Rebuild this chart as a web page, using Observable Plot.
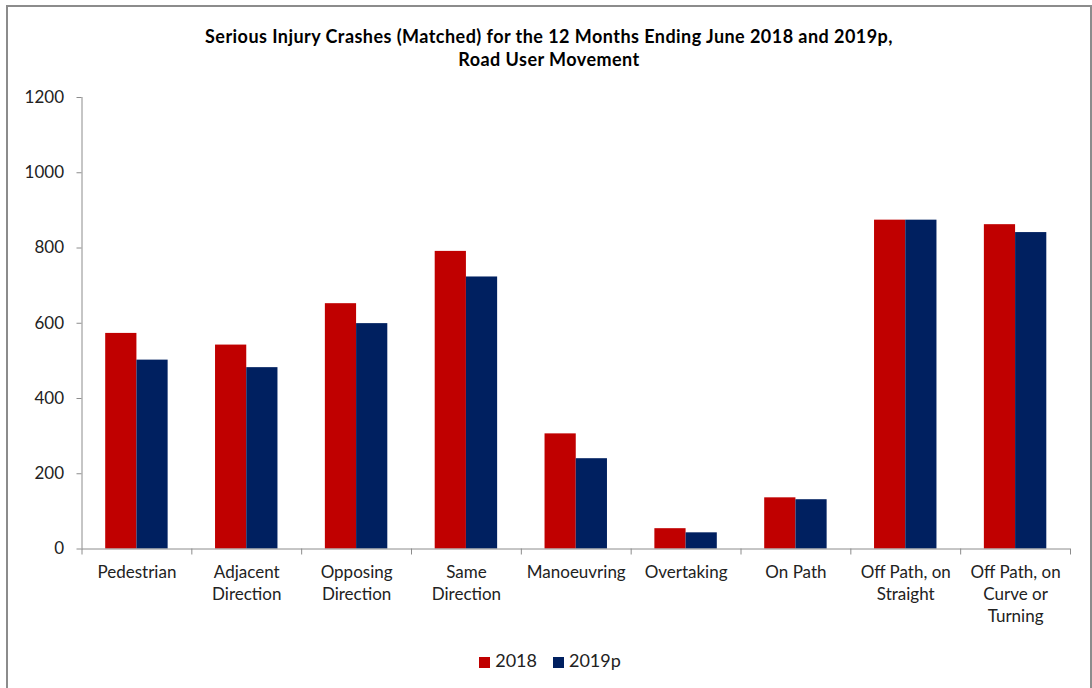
<!DOCTYPE html>
<html>
<head>
<meta charset="utf-8">
<script src="https://cdn.jsdelivr.net/npm/d3@7"></script>
<script src="https://cdn.jsdelivr.net/npm/@observablehq/plot@0.6"></script>
<style>
  body { margin: 0; background: #fff; font-family: Lato, "Open Sans", sans-serif; }
  #border { position: absolute; left: 6px; top: 5px; width: 1086px; height: 700px; border: 2px solid #8c8c8c; box-sizing: border-box; }
  #title { position: absolute; left: 0; width: 1098px; top: 25px; text-align: center; font-weight: bold; font-size: 18px; letter-spacing: 0.45px; line-height: 23px; color: #000; }
  #chart { position: absolute; left: 0; top: 80px; }
  #legend { position: absolute; top: 650px; left: 0; width: 1100px; text-align: center; font-size: 18px; line-height: 20px; color: #222; }
  #legend .item { display: inline-block; margin: 0 8px; }
  #legend .sw { display: inline-block; width: 11px; height: 11px; margin-right: 5px; vertical-align: -1px; }
</style>
</head>
<body>
<div id="border"></div>
<div id="title">Serious Injury Crashes (Matched) for the 12 Months Ending June 2018 and 2019p,<br>Road User Movement</div>
<div id="chart"></div>
<div id="legend"></div>
<script>
const categories = ["Pedestrian", "Adjacent Direction", "Opposing Direction", "Same Direction", "Manoeuvring", "Overtaking", "On Path", "Off Path, on Straight", "Off Path, on Curve or Turning"];
const tickLabels = ["Pedestrian", "Adjacent\nDirection", "Opposing\nDirection", "Same\nDirection", "Manoeuvring", "Overtaking", "On Path", "Off Path, on\nStraight", "Off Path, on\nCurve or\nTurning"];
const values2018 = [573, 542, 652, 791, 306, 54, 136, 874, 862];
const values2019p = [502, 482, 599, 723, 240, 43, 131, 874, 841];
const yTicks = [0, 200, 400, 600, 800, 1000, 1200];
const series = ["2018", "2019p"];
const colors = ["#C00000", "#002060"];

const rows2018 = categories.map((c, i) => ({category: c, year: series[0], value: values2018[i]}));
const rows2019 = categories.map((c, i) => ({category: c, year: series[1], value: values2019p[i]}));
const labelOf = new Map(categories.map((c, i) => [c, tickLabels[i]]));

const W = 1092, H = 600, mL = 81.5, mR = 22, mT = 17, mB = 131.5;
const bw = (W - mL - mR) / categories.length;
const outer = 23.7, inner = bw / 2;
const axisGray = "#8c8c8c";

const chart = Plot.plot({
  width: W, height: H,
  marginLeft: mL, marginRight: mR, marginTop: mT, marginBottom: mB,
  style: {fontFamily: "Lato, 'Open Sans', sans-serif", fontSize: "17px", color: "#222", background: "transparent"},
  x: {type: "band", domain: categories, padding: 0, round: false, axis: null},
  y: {domain: [0, 1200], axis: null},
  marks: [
    Plot.barY(rows2018, {x: "category", y: "value", fill: colors[0], insetLeft: outer, insetRight: inner}),
    Plot.barY(rows2019, {x: "category", y: "value", fill: colors[1], insetLeft: inner, insetRight: outer}),
    Plot.ruleY([0], {stroke: axisGray}),
    Plot.ruleX([categories[0]], {x: d => d, y1: 0, y2: 1200, dx: -bw / 2, stroke: axisGray}),
    Plot.axisY(yTicks, {tickSize: 5, tickFormat: () => "", stroke: axisGray, label: null}),
    Plot.axisY(yTicks, {tickSize: 0, tickPadding: 18, tickFormat: d => String(d), fill: "#222", label: null}),
    Plot.axisX(categories, {tickSize: 6, tickFormat: () => "", dx: -bw / 2, stroke: axisGray, label: null}),
    Plot.axisX([categories[categories.length - 1]], {tickSize: 6, tickFormat: () => "", dx: bw / 2, stroke: axisGray, label: null}),
    Plot.axisX(categories, {tickSize: 0, tickPadding: 13, tickFormat: d => labelOf.get(d), lineHeight: 1.3, fill: "#222", label: null})
  ]
});
document.getElementById("chart").appendChild(chart);

const legend = document.getElementById("legend");
series.forEach((s, i) => {
  const item = document.createElement("span");
  item.className = "item";
  const sw = document.createElement("span");
  sw.className = "sw";
  sw.style.background = colors[i];
  item.appendChild(sw);
  item.appendChild(document.createTextNode(s));
  legend.appendChild(item);
});
</script>
</body>
</html>
